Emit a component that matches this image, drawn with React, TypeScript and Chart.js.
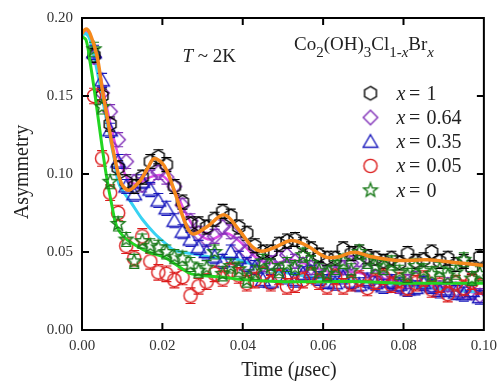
import React, { useEffect, useRef } from "react";
import { Chart, registerables } from "chart.js";

Chart.register(...registerables);

// ---------- data ----------
const TIME = [0.003, 0.005, 0.007, 0.009, 0.011, 0.013, 0.015, 0.017, 0.019, 0.021, 0.023, 0.025, 0.027, 0.029, 0.031, 0.033, 0.035, 0.037, 0.039, 0.041, 0.043, 0.045, 0.047, 0.049, 0.051, 0.053, 0.055, 0.057, 0.059, 0.061, 0.063, 0.065, 0.067, 0.069, 0.071, 0.073, 0.075, 0.077, 0.079, 0.081, 0.083, 0.085, 0.087, 0.089, 0.091, 0.093, 0.095, 0.097, 0.099];

const ASY_X1 = [0.176, 0.150, 0.132, 0.104, 0.095, 0.092, 0.098, 0.108, 0.111, 0.106, 0.092, 0.082, 0.068, 0.068, 0.066, 0.071, 0.076, 0.073, 0.066, 0.062, 0.054, 0.050, 0.050, 0.055, 0.057, 0.058, 0.055, 0.052, 0.048, 0.046, 0.046, 0.052, 0.049, 0.050, 0.047, 0.046, 0.044, 0.046, 0.043, 0.049, 0.044, 0.045, 0.050, 0.044, 0.046, 0.042, 0.044, 0.040, 0.047];
const ASY_X064 = [0.175, 0.152, 0.140, 0.122, 0.108, 0.095, 0.093, 0.098, 0.101, 0.098, 0.092, 0.080, 0.070, 0.062, 0.058, 0.060, 0.066, 0.063, 0.055, 0.050, 0.045, 0.042, 0.043, 0.046, 0.048, 0.044, 0.042, 0.040, 0.039, 0.037, 0.036, 0.040, 0.043, 0.045, 0.038, 0.034, 0.032, 0.030, 0.028, 0.031, 0.033, 0.030, 0.028, 0.027, 0.029, 0.026, 0.025, 0.024, 0.022];
const ASY_X035 = [0.178, 0.160, 0.128, 0.108, 0.092, 0.087, 0.095, 0.090, 0.083, 0.078, 0.070, 0.063, 0.058, 0.053, 0.050, 0.047, 0.044, 0.050, 0.046, 0.042, 0.040, 0.032, 0.031, 0.035, 0.034, 0.032, 0.036, 0.037, 0.033, 0.031, 0.030, 0.034, 0.031, 0.029, 0.032, 0.030, 0.028, 0.031, 0.029, 0.026, 0.027, 0.030, 0.028, 0.025, 0.026, 0.024, 0.023, 0.025, 0.021];
const ASY_X005 = [0.150, 0.110, 0.088, 0.075, 0.054, 0.046, 0.060, 0.044, 0.037, 0.036, 0.032, 0.034, 0.022, 0.028, 0.031, 0.036, 0.033, 0.038, 0.035, 0.030, 0.032, 0.036, 0.030, 0.034, 0.028, 0.029, 0.032, 0.035, 0.031, 0.028, 0.034, 0.028, 0.030, 0.033, 0.027, 0.031, 0.034, 0.029, 0.032, 0.027, 0.030, 0.033, 0.026, 0.029, 0.023, 0.030, 0.027, 0.031, 0.028];
const ASY_X0 = [0.180, 0.143, 0.095, 0.068, 0.058, 0.044, 0.057, 0.054, 0.053, 0.050, 0.047, 0.046, 0.042, 0.038, 0.040, 0.050, 0.036, 0.041, 0.039, 0.032, 0.037, 0.044, 0.041, 0.038, 0.042, 0.040, 0.048, 0.043, 0.038, 0.036, 0.040, 0.044, 0.038, 0.050, 0.044, 0.041, 0.040, 0.043, 0.037, 0.035, 0.041, 0.038, 0.036, 0.039, 0.035, 0.037, 0.045, 0.033, 0.036];

const ERRORS = [0.0045, 0.0045, 0.0045, 0.005, 0.0045];

// fit curves
const FIT_X1_T = [0, 0.001, 0.002, 0.0037, 0.005, 0.0065, 0.008, 0.0098, 0.0117, 0.0144, 0.0165, 0.018, 0.0205, 0.0234, 0.0255, 0.0275, 0.031, 0.0354, 0.039, 0.0423, 0.0447, 0.048, 0.0521, 0.056, 0.0607, 0.064, 0.0677, 0.072, 0.0784, 0.086, 0.092, 0.1];
const FIT_X1_A = [0.190, 0.193, 0.190, 0.176, 0.155, 0.133, 0.112, 0.094, 0.0896, 0.0955, 0.1045, 0.110, 0.105, 0.086, 0.070, 0.0616, 0.066, 0.0738, 0.0643, 0.0535, 0.0505, 0.053, 0.0573, 0.054, 0.0467, 0.047, 0.0499, 0.047, 0.0446, 0.045, 0.0435, 0.0414];
const FIT_X064_T = [0, 0.001, 0.002, 0.004, 0.006, 0.008, 0.010, 0.012, 0.014, 0.017, 0.020, 0.023, 0.026, 0.029, 0.032, 0.036, 0.040, 0.044, 0.048, 0.052, 0.056, 0.062, 0.068, 0.075, 0.085, 0.1];
const FIT_X064_A = [0.190, 0.191, 0.188, 0.170, 0.145, 0.122, 0.104, 0.095, 0.094, 0.098, 0.099, 0.090, 0.074, 0.062, 0.058, 0.062, 0.055, 0.045, 0.043, 0.045, 0.042, 0.037, 0.037, 0.033, 0.029, 0.023];
const FIT_X035_T = [0, 0.001, 0.002, 0.004, 0.006, 0.008, 0.0092, 0.0124, 0.015, 0.018, 0.021, 0.023, 0.0272, 0.0328, 0.0374, 0.045, 0.050, 0.060, 0.070, 0.080, 0.090, 0.1];
const FIT_X035_A = [0.189, 0.190, 0.186, 0.163, 0.136, 0.110, 0.0936, 0.081, 0.071, 0.062, 0.055, 0.051, 0.049, 0.0465, 0.046, 0.040, 0.037, 0.033, 0.031, 0.029, 0.026, 0.024];
const FIT_X0_T = [0, 0.001, 0.002, 0.003, 0.0046, 0.006, 0.0075, 0.0087, 0.0107, 0.0135, 0.0165, 0.0205, 0.0245, 0.0272, 0.0346, 0.0415, 0.050, 0.060, 0.070, 0.080, 0.090, 0.1];
const FIT_X0_A = [0.188, 0.186, 0.172, 0.155, 0.125, 0.100, 0.079, 0.066, 0.059, 0.054, 0.050, 0.0465, 0.040, 0.036, 0.034, 0.032, 0.031, 0.031, 0.031, 0.030, 0.030, 0.030];

const X_TICKS = [0, 0.02, 0.04, 0.06, 0.08, 0.1];
const Y_TICKS = [0, 0.05, 0.1, 0.15, 0.2];

const LEGEND_LABELS = ["1", "0.64", "0.35", "0.05", "0"];

// ---------- styles ----------
const SERIF = "'Liberation Serif', 'Times New Roman', serif";
const COLORS = ["#000000", "#8030b8", "#1818bc", "#dc1c1c", "#1a7a1a"];
const SHAPES = ["hex", "diamond", "triangle", "circle", "star"];
const FIT_COLORS = { x1: "#f5891c", x064: "#e050e8", x035: "#38d2f2", x0: "#22d622" };
const MARKER_R = 6.6;

function makeMarker(shape: string, color: string): HTMLCanvasElement {
  const S = 18;
  const c = document.createElement("canvas");
  c.width = S;
  c.height = S;
  const g = c.getContext("2d")!;
  g.translate(S / 2, S / 2);
  g.lineWidth = 1.4;
  g.strokeStyle = color;
  g.beginPath();
  if (shape === "hex") {
    for (let i = 0; i < 6; i++) {
      const a = (-90 + 60 * i) * Math.PI / 180;
      const r = 6.8;
      if (i === 0) g.moveTo(r * Math.cos(a), r * Math.sin(a));
      else g.lineTo(r * Math.cos(a), r * Math.sin(a));
    }
  } else if (shape === "diamond") {
    g.moveTo(0, -7.2); g.lineTo(7.2, 0); g.lineTo(0, 7.2); g.lineTo(-7.2, 0);
  } else if (shape === "triangle") {
    g.moveTo(0, -7); g.lineTo(7.3, 5.5); g.lineTo(-7.3, 5.5);
  } else if (shape === "circle") {
    g.arc(0, 0, 6.6, 0, Math.PI * 2);
  } else {
    for (let i = 0; i < 10; i++) {
      const a = (-90 + 36 * i) * Math.PI / 180;
      const r = i % 2 === 0 ? 7.2 : 3.1;
      if (i === 0) g.moveTo(r * Math.cos(a), r * Math.sin(a));
      else g.lineTo(r * Math.cos(a), r * Math.sin(a));
    }
  }
  g.closePath();
  g.stroke();
  return c;
}

export default function App() {
  const ref = useRef<HTMLCanvasElement | null>(null);

  useEffect(() => {
    const canvas = ref.current;
    if (!canvas) return;
    const markers = SHAPES.map((s, i) => makeMarker(s, COLORS[i]));
    const series = [ASY_X1, ASY_X064, ASY_X035, ASY_X005, ASY_X0];
    const markerOrder = [4, 6, 5, 3, 1];

    const pointSets: any[] = series.map((vals, i) => ({
      type: "scatter",
      label: "x = " + LEGEND_LABELS[i],
      data: TIME.map((t, k) => ({ x: t, y: vals[k] })),
      pointStyle: markers[i],
      pointRadius: 7,
      borderColor: COLORS[i],
      backgroundColor: "transparent",
      showLine: false,
      order: markerOrder[i],
      clip: 0,
      err: ERRORS[i],
      errColor: COLORS[i],
    }));

    const fit = (T: number[], A: number[], color: string, order: number, width: number) => ({
      type: "scatter",
      data: T.map((t, k) => ({ x: t, y: A[k] })),
      showLine: true,
      pointRadius: 0,
      borderColor: color,
      borderWidth: width,
      tension: 0.35,
      order,
      clip: 0,
    });

    const datasets: any[] = [
      ...pointSets,
      fit(FIT_X064_T, FIT_X064_A, FIT_COLORS.x064, 8, 2.5),
      fit(FIT_X035_T, FIT_X035_A, FIT_COLORS.x035, 7, 3),
      fit(FIT_X0_T, FIT_X0_A, FIT_COLORS.x0, 2, 3),
      fit(FIT_X1_T, FIT_X1_A, FIT_COLORS.x1, 0, 3.5),
    ];

    const errorBars = {
      id: "errorBars",
      beforeDatasetDraw(chart: any, args: any) {
        const ds = chart.data.datasets[args.index];
        if (!ds.err) return;
        const meta = chart.getDatasetMeta(args.index);
        const ys = chart.scales.y;
        const ctx = chart.ctx;
        const a = chart.chartArea;
        ctx.save();
        ctx.beginPath();
        ctx.rect(a.left, a.top, a.right - a.left, a.bottom - a.top);
        ctx.clip();
        ctx.strokeStyle = ds.errColor;
        ctx.lineWidth = 1.1;
        meta.data.forEach((el: any, k: number) => {
          const v = ds.data[k].y;
          const y1 = ys.getPixelForValue(v + ds.err);
          const y2 = ys.getPixelForValue(v - ds.err);
          ctx.beginPath();
          if (el.y - y1 > MARKER_R) { ctx.moveTo(el.x, y1); ctx.lineTo(el.x, el.y - MARKER_R); }
          if (y2 - el.y > MARKER_R) { ctx.moveTo(el.x, el.y + MARKER_R); ctx.lineTo(el.x, y2); }
          ctx.moveTo(el.x - 5, y1); ctx.lineTo(el.x + 5, y1);
          ctx.moveTo(el.x - 5, y2); ctx.lineTo(el.x + 5, y2);
          ctx.stroke();
        });
        ctx.restore();
      },
    };

    const decorations = {
      id: "decorations",
      afterDraw(chart: any) {
        const ctx = chart.ctx;
        const a = chart.chartArea;
        const xs = chart.scales.x;
        const ys = chart.scales.y;
        ctx.save();
        // frame
        ctx.strokeStyle = "#000";
        ctx.lineWidth = 2;
        ctx.strokeRect(a.left, a.top, a.right - a.left, a.bottom - a.top);
        // inward ticks on all sides
        const TL = 7;
        ctx.beginPath();
        X_TICKS.slice(1, -1).forEach((v) => {
          const px = xs.getPixelForValue(v);
          ctx.moveTo(px, a.bottom); ctx.lineTo(px, a.bottom - TL);
          ctx.moveTo(px, a.top); ctx.lineTo(px, a.top + TL);
        });
        Y_TICKS.slice(1, -1).forEach((v) => {
          const py = ys.getPixelForValue(v);
          ctx.moveTo(a.left, py); ctx.lineTo(a.left + TL, py);
          ctx.moveTo(a.right, py); ctx.lineTo(a.right - TL, py);
        });
        ctx.stroke();

        ctx.fillStyle = "#222";
        // y title
        ctx.save();
        ctx.translate(23, 172);
        ctx.rotate(-Math.PI / 2);
        ctx.font = `20px ${SERIF}`;
        ctx.textAlign = "center";
        ctx.textBaseline = "middle";
        ctx.fillText("Asymmetry", 0, 0);
        ctx.restore();

        // x title: Time (μsec)
        const parts: [string, boolean][] = [["Time (", false], ["\u03bc", true], ["sec)", false]];
        let total = 0;
        parts.forEach(([s, it]) => {
          ctx.font = `${it ? "italic " : ""}20px ${SERIF}`;
          total += ctx.measureText(s).width;
        });
        let x = 289 - total / 2;
        ctx.textBaseline = "alphabetic";
        ctx.textAlign = "left";
        parts.forEach(([s, it]) => {
          ctx.font = `${it ? "italic " : ""}20px ${SERIF}`;
          ctx.fillText(s, x, 376);
          x += ctx.measureText(s).width;
        });

        // T ~ 2K
        ctx.font = `italic 19px ${SERIF}`;
        ctx.fillText("T", 182.5, 61.5);
        const tx = 182.5 + ctx.measureText("T").width;
        ctx.font = `19px ${SERIF}`;
        ctx.fillText(" ~ 2K", tx, 61.5);

        // formula
        const f: [string, number][] = [["Co", 0], ["2", 1], ["(OH)", 0], ["3", 1], ["Cl", 0], ["1-", 1], ["x", 2], ["Br", 0], ["x", 2]];
        let fx = 294;
        f.forEach(([s, kind]) => {
          if (kind === 0) ctx.font = `19px ${SERIF}`;
          else if (kind === 1) ctx.font = `15px ${SERIF}`;
          else ctx.font = `italic 15px ${SERIF}`;
          ctx.fillText(s, fx, kind === 0 ? 50 : 57);
          fx += ctx.measureText(s).width;
        });

        // legend
        const rows = [93.3, 117.5, 141.7, 165.9, 190.3];
        rows.forEach((ry, i) => {
          const m = markers[i];
          ctx.drawImage(m, 370.5 - m.width / 2, ry - m.height / 2);
          ctx.textBaseline = "middle";
          ctx.font = `italic 20px ${SERIF}`;
          ctx.fillText("x", 396.5, ry + 1);
          ctx.font = `20px ${SERIF}`;
          ctx.fillText("=", 409, ry + 1);
          ctx.fillText(LEGEND_LABELS[i], 426.5, ry + 1);
        });
        ctx.restore();
      },
    };

    const chart = new Chart(canvas, {
      type: "scatter",
      data: { datasets },
      options: {
        animation: false,
        responsive: false,
        maintainAspectRatio: false,
        layout: { padding: { left: 0, right: 16, top: 15, bottom: 0 } },
        plugins: { legend: { display: false }, tooltip: { enabled: false } },
        scales: {
          x: {
            type: "linear",
            min: 0,
            max: 0.1,
            afterFit(s: any) { s.height = 53; },
            afterBuildTicks(s: any) { s.ticks = X_TICKS.map((v) => ({ value: v })); },
            grid: { display: false, drawTicks: false },
            border: { display: true, color: "#000", width: 2 },
            ticks: {
              callback: (v: any) => Number(v).toFixed(2),
              font: { family: SERIF, size: 15 },
              color: "#333",
              padding: 7,
              maxRotation: 0,
              autoSkip: false,
            },
          },
          y: {
            type: "linear",
            min: 0,
            max: 0.2,
            afterFit(s: any) { s.width = 82; },
            afterBuildTicks(s: any) { s.ticks = Y_TICKS.map((v) => ({ value: v })); },
            grid: { display: false, drawTicks: false },
            border: { display: true, color: "#000", width: 2 },
            ticks: {
              callback: (v: any) => Number(v).toFixed(2),
              font: { family: SERIF, size: 15 },
              color: "#333",
              padding: 9,
              autoSkip: false,
            },
          },
        },
      } as any,
      plugins: [errorBars, decorations],
    } as any);

    return () => chart.destroy();
  }, []);

  return (
    <div style={{ position: "absolute", left: 0, top: 0, width: 504, height: 383, background: "#fff" }}>
      <canvas ref={ref} width={504} height={383} style={{ display: "block", width: 504, height: 383 }} />
    </div>
  );
}
